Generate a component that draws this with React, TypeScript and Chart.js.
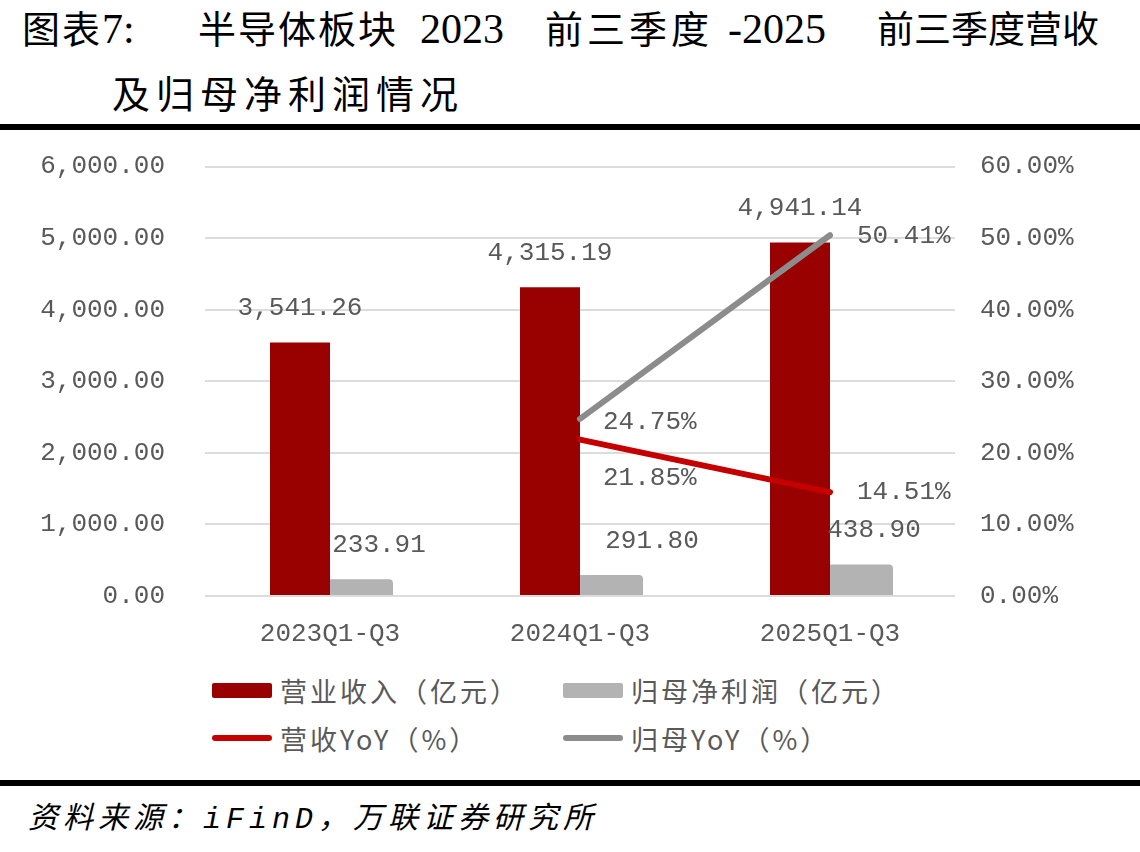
import React, { useEffect, useRef } from "react";
import { Chart, registerables } from "chart.js";

Chart.register(...registerables);

// ---- data ----
const categories = ["2023Q1-Q3", "2024Q1-Q3", "2025Q1-Q3"];
const revenue = [3541.26, 4315.19, 4941.14]; // 营业收入（亿元）
const netProfit = [233.91, 291.8, 438.9]; // 归母净利润（亿元）
const revenueYoY: (number | null)[] = [null, 21.85, 14.51]; // 营收YoY（%）
const netProfitYoY: (number | null)[] = [null, 24.75, 50.41]; // 归母YoY（%）

const leftMax = 6000;
const leftStep = 1000;
const rightMax = 60;
const rightStep = 10;

// ---- colours ----
const RED_BAR = "#990000";
const GRAY_BAR = "#B3B3B3";
const RED_LINE = "#C40000";
const GRAY_LINE = "#8C8C8C";
const TEXT = "#595959";
const GRID = "#DCDCDC";

const NUM_FONT = "'Liberation Mono', 'DejaVu Sans Mono', monospace";
const CJK_FONT = "'Noto Sans CJK SC', sans-serif";

const fmtAmount = (v: number) =>
  v.toLocaleString("en-US", { minimumFractionDigits: 2, maximumFractionDigits: 2 });
const fmtPct = (v: number) => v.toFixed(2) + "%";

// label placement relative to the drawn element
const barLabelLift = 34;
const profitLabelDx = [19, 42, 14];
const revYoYOffset = [
  [0, 0],
  [23, 38],
  [27, 0],
];
const profitYoYOffset = [
  [0, 0],
  [23, 3],
  [27, 1],
];

const valueLabels = {
  id: "valueLabels",
  afterDatasetsDraw(chart: any) {
    const ctx = chart.ctx;
    ctx.save();
    ctx.font = `26px ${NUM_FONT}`;
    ctx.fillStyle = TEXT;
    ctx.textBaseline = "middle";

    const revMeta = chart.getDatasetMeta(2);
    revMeta.data.forEach((el: any, i: number) => {
      ctx.textAlign = "center";
      ctx.fillText(fmtAmount(revenue[i]), el.x, el.y - barLabelLift);
    });

    const npMeta = chart.getDatasetMeta(3);
    npMeta.data.forEach((el: any, i: number) => {
      ctx.textAlign = "center";
      ctx.fillText(fmtAmount(netProfit[i]), el.x + profitLabelDx[i], el.y - barLabelLift);
    });

    const drawLineLabels = (idx: number, values: (number | null)[], offs: number[][]) => {
      const meta = chart.getDatasetMeta(idx);
      meta.data.forEach((el: any, i: number) => {
        const v = values[i];
        if (v == null) return;
        ctx.textAlign = "left";
        ctx.fillText(fmtPct(v), el.x + offs[i][0], el.y + offs[i][1]);
      });
    };
    drawLineLabels(0, netProfitYoY, profitYoYOffset);
    drawLineLabels(1, revenueYoY, revYoYOffset);
    ctx.restore();
  },
};

function LegendItem(props: { kind: "box" | "line"; color: string; label: string; x: number; y: number }) {
  const { kind, color, label, x, y } = props;
  const marker =
    kind === "box"
      ? { width: 60, height: 15, background: color, borderRadius: 2 }
      : { width: 60, height: 6, background: color, borderRadius: 3 };
  return (
    <div
      style={{
        position: "absolute",
        left: x,
        top: y - 20,
        height: 40,
        display: "flex",
        alignItems: "center",
        whiteSpace: "nowrap",
      }}
    >
      <div style={{ ...marker }} />
      <span
        style={{
          marginLeft: 8,
          fontFamily: CJK_FONT,
          fontSize: 27,
          letterSpacing: 3,
          color: TEXT,
        }}
      >
        {label}
      </span>
    </div>
  );
}

export default function App() {
  const canvasRef = useRef<HTMLCanvasElement | null>(null);

  useEffect(() => {
    const canvas = canvasRef.current;
    if (!canvas) return;
    const chart = new Chart(canvas, {
      data: {
        labels: categories,
        datasets: [
          {
            type: "line",
            label: "归母YoY（%）",
            data: netProfitYoY,
            yAxisID: "yR",
            borderColor: GRAY_LINE,
            borderWidth: 6,
            borderCapStyle: "round",
            pointRadius: 0,
            tension: 0,
            order: 0,
          },
          {
            type: "line",
            label: "营收YoY（%）",
            data: revenueYoY,
            yAxisID: "yR",
            borderColor: RED_LINE,
            borderWidth: 6,
            borderCapStyle: "round",
            pointRadius: 0,
            tension: 0,
            order: 0,
          },
          {
            type: "bar",
            label: "营业收入（亿元）",
            data: revenue,
            yAxisID: "yL",
            backgroundColor: RED_BAR,
            categoryPercentage: 0.48,
            barPercentage: 1,
            order: 1,
          },
          {
            type: "bar",
            label: "归母净利润（亿元）",
            data: netProfit,
            yAxisID: "yL",
            backgroundColor: GRAY_BAR,
            categoryPercentage: 0.48,
            barPercentage: 1.1,
            borderRadius: { topLeft: 4, topRight: 4, bottomLeft: 0, bottomRight: 0 },
            borderSkipped: "bottom",
            order: 2,
          },
        ],
      } as any,
      options: {
        responsive: false,
        animation: false,
        devicePixelRatio: 1,
        layout: { padding: { top: 17, left: 0, right: 0, bottom: 0 } },
        plugins: {
          legend: { display: false },
          tooltip: { enabled: false },
        },
        scales: {
          x: {
            grid: { display: false },
            border: { display: false },
            ticks: {
              color: TEXT,
              font: { family: NUM_FONT, size: 26 },
              padding: 15,
            },
            afterFit(scale: any) {
              scale.height = 64;
            },
          },
          yL: {
            position: "left",
            min: 0,
            max: leftMax,
            grid: { color: GRID, lineWidth: 2, drawTicks: false },
            border: { display: false },
            ticks: {
              stepSize: leftStep,
              color: TEXT,
              font: { family: NUM_FONT, size: 26 },
              padding: 40,
              callback: (v: any) => fmtAmount(Number(v)),
            },
            afterFit(scale: any) {
              scale.width = 205;
            },
          },
          yR: {
            position: "right",
            min: 0,
            max: rightMax,
            grid: { display: false, drawTicks: false },
            border: { display: false },
            ticks: {
              stepSize: rightStep,
              color: TEXT,
              font: { family: NUM_FONT, size: 26 },
              padding: 25,
              callback: (v: any) => fmtPct(Number(v)),
            },
            afterFit(scale: any) {
              scale.width = 185;
            },
          },
        },
      } as any,
      plugins: [valueLabels],
    });
    return () => chart.destroy();
  }, []);

  const titleCjk: React.CSSProperties = {
    position: "absolute",
    fontFamily: CJK_FONT,
    fontSize: 38,
    fontWeight: 400,
    letterSpacing: 2,
    color: "#000",
    lineHeight: "44px",
    whiteSpace: "nowrap",
  };
  const titleLatin: React.CSSProperties = {
    fontFamily: "'Liberation Serif', serif",
    fontSize: 42,
    letterSpacing: 0,
  };

  return (
    <div
      style={{
        position: "fixed",
        left: 0,
        top: 0,
        width: 1140,
        height: 852,
        background: "#fff",
        overflow: "hidden",
      }}
    >
      <div style={{ ...titleCjk, left: 22, top: 5 }}>
        图表<span style={titleLatin}>7:</span>
      </div>
      <div style={{ ...titleCjk, left: 198, top: 5 }}>半导体板块</div>
      <div style={{ ...titleCjk, left: 420, top: 5 }}>
        <span style={titleLatin}>2023</span>
      </div>
      <div style={{ ...titleCjk, left: 545, top: 5, letterSpacing: 4 }}>前三季度</div>
      <div style={{ ...titleCjk, left: 728, top: 5 }}>
        <span style={titleLatin}>-2025</span>
      </div>
      <div style={{ ...titleCjk, left: 877, top: 5, fontSize: 37, letterSpacing: 0 }}>前三季度营收</div>
      <div style={{ ...titleCjk, left: 112, top: 70, letterSpacing: 6 }}>及归母净利润情况</div>

      <div style={{ position: "absolute", left: 0, top: 124, width: 1140, height: 6, background: "#000" }} />

      <canvas
        ref={canvasRef}
        width={1140}
        height={549}
        style={{ position: "absolute", left: 0, top: 111, width: 1140, height: 549 }}
      />

      <LegendItem kind="box" color={RED_BAR} label="营业收入（亿元）" x={212} y={690} />
      <LegendItem kind="box" color={GRAY_BAR} label="归母净利润（亿元）" x={563} y={690} />
      <LegendItem kind="line" color={RED_LINE} label="营收YoY（%）" x={212} y={738} />
      <LegendItem kind="line" color={GRAY_LINE} label="归母YoY（%）" x={563} y={738} />

      <div style={{ position: "absolute", left: 0, top: 780, width: 1140, height: 6, background: "#000" }} />

      <div
        style={{
          position: "absolute",
          left: 28,
          top: 800,
          lineHeight: "40px",
          fontFamily: "'Liberation Mono', 'Noto Sans CJK SC', monospace",
          fontStyle: "italic",
          fontSize: 30,
          letterSpacing: 5,
          color: "#000",
          whiteSpace: "nowrap",
        }}
      >
        资料来源：iFinD，万联证券研究所
      </div>
    </div>
  );
}
